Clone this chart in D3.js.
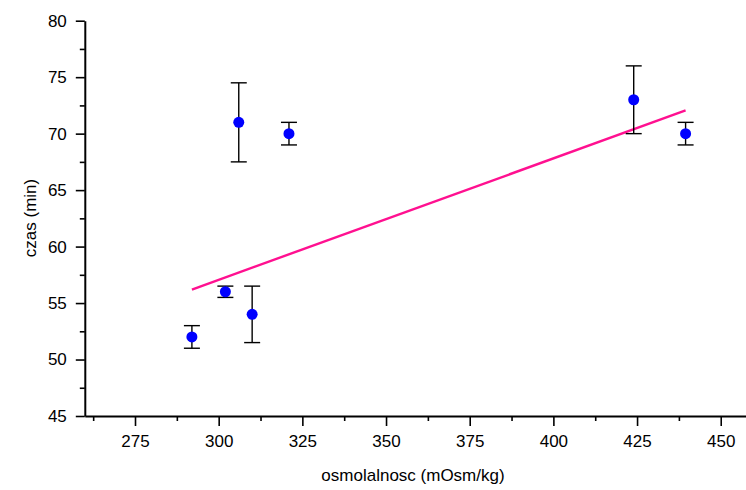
<!DOCTYPE html>
<html>
<head>
<meta charset="utf-8">
<script src="https://cdn.jsdelivr.net/npm/d3@7"></script>
<style>
  html, body { margin: 0; padding: 0; background: #fff; }
  svg { display: block; font-family: "Liberation Sans", Arial, sans-serif; }
</style>
</head>
<body>
<svg id="chart" width="746" height="490"></svg>
<script>
// Measurements: osmolality vs. time, with standard deviations
const osmolality = [292, 302, 306, 310, 321, 424, 439.5];
const timeMin    = [52, 56, 71, 54, 70, 73, 70];
const timeErr    = [1, 0.5, 3.5, 2.5, 1, 3, 1];

// Weighted linear fit, drawn between its end points
const fitX = [292, 439.5];
const fitY = [56.2, 72.05];

const xMajorTicks = [275, 300, 325, 350, 375, 400, 425, 450];
const xMinorTicks = [262.5, 287.5, 312.5, 337.5, 362.5, 387.5, 412.5, 437.5];
const yMajorTicks = [45, 50, 55, 60, 65, 70, 75, 80];
const yMinorTicks = [47.5, 52.5, 57.5, 62.5, 67.5, 72.5, 77.5];

const svg = d3.select("#chart");

const x = d3.scaleLinear().domain([260, 460]).range([84.8, 754.2]);
const y = d3.scaleLinear().domain([45, 80]).range([416, 20.7]);

const axisColor = "#000";
const tickFont = 17;
const titleFont = 17;

// Minor ticks
svg.append("g")
  .attr("transform", `translate(0,${y(45)})`)
  .call(d3.axisBottom(x).tickValues(xMinorTicks).tickSize(5).tickFormat(""))
  .call(g => g.select(".domain").remove());
svg.append("g")
  .attr("transform", `translate(${x(260)},0)`)
  .call(d3.axisLeft(y).tickValues(yMinorTicks).tickSize(5).tickFormat(""))
  .call(g => g.select(".domain").remove());

// Major axes
const xAxis = svg.append("g")
  .attr("transform", `translate(0,${y(45)})`)
  .call(d3.axisBottom(x).tickValues(xMajorTicks).tickSize(10).tickPadding(9).tickSizeOuter(0));
const yAxis = svg.append("g")
  .attr("transform", `translate(${x(260)},0)`)
  .call(d3.axisLeft(y).tickValues(yMajorTicks).tickSize(9).tickPadding(9).tickSizeOuter(0));

svg.selectAll(".tick line").attr("stroke", axisColor).attr("stroke-width", 1.6);
[xAxis, yAxis].forEach(a => {
  a.select(".domain").attr("stroke", axisColor).attr("stroke-width", 2);
  a.selectAll("text").attr("font-size", tickFont).attr("fill", "#000")
    .attr("font-family", "'Liberation Sans', Arial, sans-serif");
});

// Axis titles
svg.append("text")
  .attr("x", 413).attr("y", 481)
  .attr("text-anchor", "middle")
  .attr("font-size", titleFont)
  .text("osmolalnosc (mOsm/kg)");
svg.append("text")
  .attr("transform", `translate(36,218) rotate(-90)`)
  .attr("text-anchor", "middle")
  .attr("font-size", titleFont)
  .text("czas (min)");

// Fit line
svg.append("path")
  .datum(fitX.map((v, i) => [v, fitY[i]]))
  .attr("fill", "none")
  .attr("stroke", "#FF1090")
  .attr("stroke-width", 2.4)
  .attr("d", d3.line().x(d => x(d[0])).y(d => y(d[1])));

// Error bars
const pts = osmolality.map((v, i) => ({ x: v, y: timeMin[i], e: timeErr[i] }));
const capHalf = 8;
const eb = svg.append("g").attr("stroke", "#000").attr("stroke-width", 1.4);
pts.forEach(p => {
  eb.append("line")
    .attr("x1", x(p.x)).attr("x2", x(p.x))
    .attr("y1", y(p.y + p.e)).attr("y2", y(p.y - p.e));
  [p.y + p.e, p.y - p.e].forEach(v => {
    eb.append("line")
      .attr("x1", x(p.x) - capHalf).attr("x2", x(p.x) + capHalf)
      .attr("y1", y(v)).attr("y2", y(v));
  });
});

// Points
svg.append("g").selectAll("circle")
  .data(pts)
  .join("circle")
  .attr("cx", d => x(d.x))
  .attr("cy", d => y(d.y))
  .attr("r", 5.5)
  .attr("fill", "#0000FF");
</script>
</body>
</html>
